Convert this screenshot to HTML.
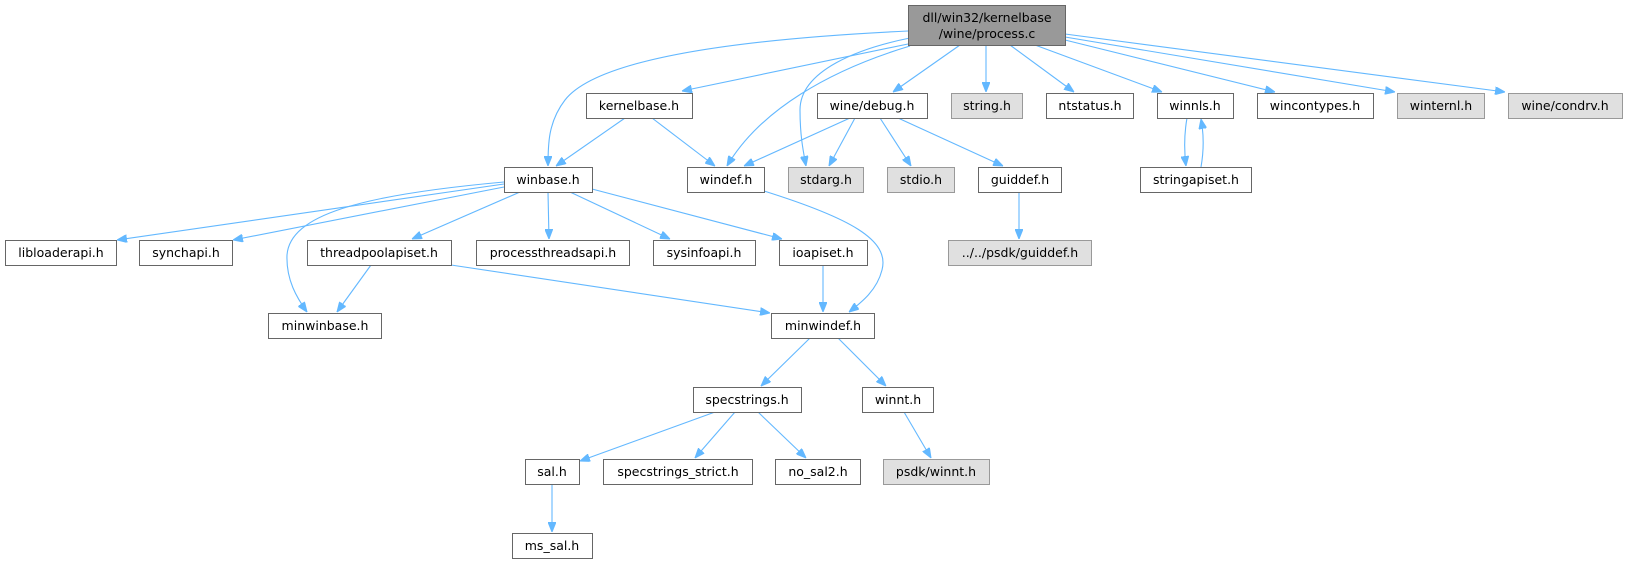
<!DOCTYPE html>
<html><head><meta charset="utf-8"><style>
html,body{margin:0;padding:0;background:#fff;}
svg{display:block;}
text{font-family:"DejaVu Sans","Liberation Sans",sans-serif;font-size:12.5px;fill:#000;text-anchor:middle;}
.w{fill:#fff;stroke:#666;stroke-width:1;}
.g{fill:#e0e0e0;stroke:#999;stroke-width:1;}
.t{fill:#999;stroke:#666;stroke-width:1;}
.e{fill:none;stroke:#63b8ff;stroke-width:1.1;}
</style></head><body>
<svg width="1626" height="564" viewBox="0 0 1626 564" xmlns="http://www.w3.org/2000/svg">
<defs><marker id="a" markerWidth="10" markerHeight="8" refX="10" refY="4" orient="auto" markerUnits="userSpaceOnUse"><path d="M0,0 L10,4 L0,8 Z" fill="#63b8ff" stroke="#63b8ff"/></marker></defs>
<g marker-end="url(#a)">
<path class="e" d="M908,31 C760,38 600,55 565,100 C 548,122 548,145 548,166"/>
<path class="e" d="M908,44 L 682,91"/>
<path class="e" d="M910,46 C 830,70 760,110 727,166"/>
<path class="e" d="M910,38 C 860,48 800,70 800,110 C 800,135 803,150 806,166"/>
<path class="e" d="M960,45 L 893,92"/>
<path class="e" d="M986,45 L 986,92"/>
<path class="e" d="M1010,45 L 1074,92"/>
<path class="e" d="M1035,45 L 1162,92"/>
<path class="e" d="M1065,40 L 1275,92"/>
<path class="e" d="M1065,37 L 1395,92"/>
<path class="e" d="M1065,34 L 1505,92"/>
<path class="e" d="M625,118 L 556,166"/>
<path class="e" d="M652,118 L 715,166"/>
<path class="e" d="M850,118 L 744,166"/>
<path class="e" d="M855,118 L 829,166"/>
<path class="e" d="M880,118 L 911,166"/>
<path class="e" d="M898,118 L 1003,166"/>
<path class="e" d="M1187,118 C 1184,135 1184,150 1186,166"/>
<path class="e" d="M1201,167 C 1204,150 1204,135 1201,119"/>
<path class="e" d="M1019,192 L 1019,239"/>
<path class="e" d="M504,184 L 117,240"/>
<path class="e" d="M504,187 L 233,240"/>
<path class="e" d="M504,182 C 360,195 290,215 287,255 C 286,280 297,298 307,312"/>
<path class="e" d="M520,192 L 412,239"/>
<path class="e" d="M548,192 L 549,239"/>
<path class="e" d="M570,192 L 670,239"/>
<path class="e" d="M592,189 L 782,239"/>
<path class="e" d="M371,265 L 337,312"/>
<path class="e" d="M451,265 L 770,313"/>
<path class="e" d="M823,265 L 823,312"/>
<path class="e" d="M764,191 C 850,218 890,240 882,270 C 877,290 862,302 849,312"/>
<path class="e" d="M810,338 L 761,386"/>
<path class="e" d="M838,338 L 886,386"/>
<path class="e" d="M715,412 L 580,461"/>
<path class="e" d="M735,412 L 695,458"/>
<path class="e" d="M758,412 L 806,458"/>
<path class="e" d="M904,412 L 931,458"/>
<path class="e" d="M552,485 L 552,532"/>
</g>
<rect class="t" x="908.5" y="5.5" width="157" height="40"/>
<text x="987" y="22">dll/win32/kernelbase</text>
<text x="987" y="38">/wine/process.c</text>
<rect class="w" x="586.5" y="93.5" width="106" height="25"/><text x="639" y="110">kernelbase.h</text>
<rect class="w" x="817.5" y="93.5" width="110" height="25"/><text x="872" y="110">wine/debug.h</text>
<rect class="g" x="951.5" y="93.5" width="71" height="25"/><text x="987" y="110">string.h</text>
<rect class="w" x="1046.5" y="93.5" width="87" height="25"/><text x="1090" y="110">ntstatus.h</text>
<rect class="w" x="1157.5" y="93.5" width="76" height="25"/><text x="1195" y="110">winnls.h</text>
<rect class="w" x="1257.5" y="93.5" width="116" height="25"/><text x="1315" y="110">wincontypes.h</text>
<rect class="g" x="1397.5" y="93.5" width="87" height="25"/><text x="1441" y="110">winternl.h</text>
<rect class="g" x="1508.5" y="93.5" width="114" height="25"/><text x="1565" y="110">wine/condrv.h</text>
<rect class="w" x="504.5" y="167.5" width="88" height="25"/><text x="548" y="184">winbase.h</text>
<rect class="w" x="687.5" y="167.5" width="77" height="25"/><text x="726" y="184">windef.h</text>
<rect class="g" x="788.5" y="167.5" width="75" height="25"/><text x="826" y="184">stdarg.h</text>
<rect class="g" x="887.5" y="167.5" width="67" height="25"/><text x="921" y="184">stdio.h</text>
<rect class="w" x="978.5" y="167.5" width="83" height="25"/><text x="1020" y="184">guiddef.h</text>
<rect class="w" x="1140.5" y="167.5" width="111" height="25"/><text x="1196" y="184">stringapiset.h</text>
<rect class="w" x="5.5" y="240.5" width="111" height="25"/><text x="61" y="257">libloaderapi.h</text>
<rect class="w" x="139.5" y="240.5" width="93" height="25"/><text x="186" y="257">synchapi.h</text>
<rect class="w" x="307.5" y="240.5" width="144" height="25"/><text x="379" y="257">threadpoolapiset.h</text>
<rect class="w" x="476.5" y="240.5" width="153" height="25"/><text x="553" y="257">processthreadsapi.h</text>
<rect class="w" x="653.5" y="240.5" width="102" height="25"/><text x="704" y="257">sysinfoapi.h</text>
<rect class="w" x="779.5" y="240.5" width="88" height="25"/><text x="823" y="257">ioapiset.h</text>
<rect class="g" x="948.5" y="240.5" width="143" height="25"/><text x="1020" y="257">../../psdk/guiddef.h</text>
<rect class="w" x="268.5" y="313.5" width="113" height="25"/><text x="325" y="330">minwinbase.h</text>
<rect class="w" x="771.5" y="313.5" width="103" height="25"/><text x="823" y="330">minwindef.h</text>
<rect class="w" x="693.5" y="387.5" width="108" height="25"/><text x="747" y="404">specstrings.h</text>
<rect class="w" x="862.5" y="387.5" width="71" height="25"/><text x="898" y="404">winnt.h</text>
<rect class="w" x="525.5" y="459.5" width="54" height="25"/><text x="552" y="476">sal.h</text>
<rect class="w" x="603.5" y="459.5" width="149" height="25"/><text x="678" y="476">specstrings_strict.h</text>
<rect class="w" x="775.5" y="459.5" width="85" height="25"/><text x="818" y="476">no_sal2.h</text>
<rect class="g" x="883.5" y="459.5" width="106" height="25"/><text x="936" y="476">psdk/winnt.h</text>
<rect class="w" x="512.5" y="533.5" width="80" height="25"/><text x="552" y="550">ms_sal.h</text>
</svg>
</body></html>
